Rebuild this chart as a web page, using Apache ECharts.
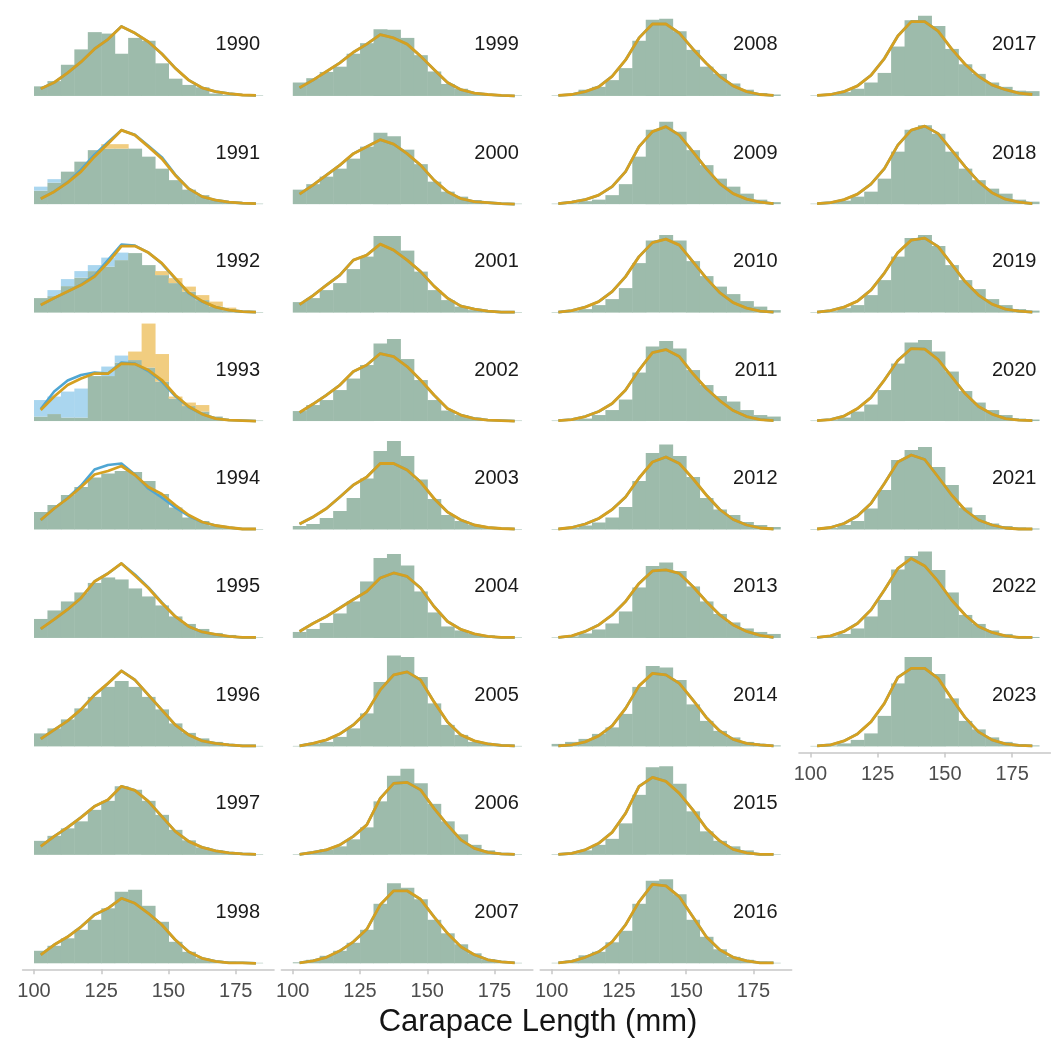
<!DOCTYPE html>
<html>
<head>
<meta charset="utf-8">
<script src="https://cdn.jsdelivr.net/npm/echarts/dist/echarts.min.js"></script>
<style>
  html, body { margin: 0; padding: 0; background: #ffffff; }
  #chart { width: 1051px; height: 1045px; }
</style>
</head>
<body>
<div id="chart"></div>
<script>
// Carapace length frequency by year: 5 mm bins from 100 to 185 mm.
const binStarts = [100, 105, 110, 115, 120, 125, 130, 135, 140, 145, 150, 155, 160, 165, 170, 175, 180];
const binWidth = 5;
const tickValues = [100, 125, 150, 175];
const years = [1990, 1991, 1992, 1993, 1994, 1995, 1996, 1997, 1998,
               1999, 2000, 2001, 2002, 2003, 2004, 2005, 2006, 2007,
               2008, 2009, 2010, 2011, 2012, 2013, 2014, 2015, 2016,
               2017, 2018, 2019, 2020, 2021, 2022, 2023];

// Percent of catch per bin (main sample), one row per year.
const histMain = [
  [2.0, 3.1, 6.5, 9.7, 13.3, 13.0, 8.8, 12.1, 11.5, 6.8, 3.6, 2.3, 1.8, 0.5, 0.2, 0.1, 0.1],
  [2.7, 4.3, 6.5, 8.5, 10.8, 12.0, 12.0, 11.1, 9.5, 7.1, 4.8, 2.9, 1.8, 0.8, 0.4, 0.2, 0.1],
  [2.9, 3.3, 5.3, 7.0, 8.3, 9.2, 10.5, 11.9, 9.5, 8.3, 6.9, 5.2, 3.5, 2.2, 1.0, 0.4, 0.1],
  [0.9, 1.4, 0.7, 0.7, 9.0, 9.0, 11.7, 13.9, 19.5, 13.4, 4.9, 3.7, 3.2, 0.9, 0.3, 0.1, 0.1],
  [3.5, 4.9, 6.9, 8.5, 10.4, 11.2, 11.7, 11.5, 9.7, 7.1, 4.4, 2.4, 1.7, 0.7, 0.3, 0.1, 0.1],
  [3.8, 5.5, 7.3, 9.1, 11.0, 12.1, 11.7, 9.9, 8.3, 6.5, 4.3, 2.8, 1.8, 1.0, 0.6, 0.2, 0.1],
  [2.6, 3.6, 5.4, 7.6, 9.9, 11.9, 13.1, 11.9, 9.9, 7.4, 4.6, 2.7, 1.6, 0.9, 0.5, 0.2, 0.1],
  [2.8, 3.8, 5.3, 6.7, 9.0, 10.8, 13.7, 13.0, 10.8, 8.0, 5.0, 2.9, 1.5, 0.9, 0.5, 0.2, 0.1],
  [2.5, 3.5, 5.0, 6.7, 8.7, 11.0, 14.3, 14.7, 11.5, 8.3, 4.3, 2.3, 1.0, 0.5, 0.3, 0.1, 0.1],
  [2.8, 3.7, 5.0, 6.1, 8.8, 11.0, 13.9, 13.8, 12.1, 8.5, 5.1, 2.5, 1.5, 0.6, 0.3, 0.1, 0.1],
  [2.9, 4.0, 5.5, 7.1, 9.1, 11.5, 14.3, 13.6, 10.9, 8.0, 4.5, 2.5, 1.5, 0.8, 0.4, 0.2, 0.1],
  [2.1, 2.9, 4.5, 5.9, 8.7, 11.2, 15.3, 15.3, 12.4, 8.2, 4.5, 2.5, 1.2, 0.5, 0.3, 0.1, 0.1],
  [2.0, 3.2, 4.2, 6.2, 8.5, 11.2, 15.5, 16.4, 12.4, 8.2, 4.2, 2.1, 1.2, 0.7, 0.3, 0.1, 0.1],
  [0.7, 1.1, 2.3, 3.7, 6.3, 10.2, 15.7, 17.7, 14.7, 10.0, 6.1, 2.9, 1.7, 0.9, 0.5, 0.2, 0.1],
  [1.2, 1.8, 3.0, 4.9, 7.3, 11.3, 16.0, 16.8, 14.5, 9.3, 5.1, 2.3, 1.5, 0.8, 0.5, 0.2, 0.1],
  [0.1, 0.5, 0.9, 1.9, 3.6, 6.6, 12.9, 18.2, 17.9, 13.9, 8.6, 4.3, 2.3, 0.9, 0.5, 0.2, 0.1],
  [0.1, 0.5, 1.1, 1.7, 3.1, 5.5, 10.7, 15.8, 17.2, 14.3, 10.2, 6.7, 4.1, 2.0, 0.9, 0.3, 0.1],
  [0.2, 0.7, 1.5, 2.5, 4.1, 6.7, 11.9, 16.0, 15.1, 12.8, 8.7, 6.0, 3.8, 2.0, 0.8, 0.3, 0.1],
  [0.1, 0.3, 1.3, 1.9, 3.3, 5.8, 11.5, 15.9, 16.1, 13.5, 9.6, 6.1, 4.6, 2.6, 1.3, 0.6, 0.3],
  [0.1, 0.2, 0.6, 0.9, 1.8, 4.0, 9.5, 14.9, 16.5, 14.5, 10.8, 7.8, 5.1, 3.5, 2.1, 0.9, 0.4],
  [0.1, 0.3, 0.7, 1.5, 2.7, 4.9, 9.9, 14.4, 15.5, 14.4, 10.3, 7.3, 5.2, 3.7, 2.3, 1.2, 0.5],
  [0.1, 0.2, 0.5, 1.2, 2.2, 4.3, 9.7, 14.9, 16.0, 14.5, 10.2, 7.2, 5.0, 3.9, 2.2, 1.2, 0.9],
  [0.1, 0.3, 0.8, 1.4, 2.4, 4.5, 9.7, 15.3, 17.0, 14.7, 10.5, 6.3, 4.0, 2.9, 1.5, 0.9, 0.5],
  [0.1, 0.3, 0.9, 1.7, 2.9, 5.3, 10.1, 14.4, 15.1, 13.4, 10.3, 7.3, 4.8, 3.1, 1.9, 1.2, 0.8],
  [0.5, 0.9, 1.5, 2.5, 3.8, 6.5, 11.9, 16.1, 15.8, 13.3, 8.4, 5.1, 3.1, 1.8, 0.9, 0.5, 0.2],
  [0.1, 0.3, 0.9, 2.0, 3.2, 6.3, 12.0, 17.5, 17.7, 14.2, 8.7, 4.7, 2.8, 1.7, 0.9, 0.3, 0.1],
  [0.1, 0.5, 1.6, 2.3, 4.2, 6.5, 11.9, 16.5, 16.8, 13.8, 8.7, 5.3, 2.8, 1.3, 0.7, 0.3, 0.1],
  [0.1, 0.3, 0.8, 1.5, 2.8, 4.8, 10.3, 15.8, 16.7, 14.6, 9.8, 6.6, 4.6, 2.8, 1.9, 1.1, 1.0],
  [0.1, 0.3, 0.7, 1.5, 2.5, 5.1, 10.5, 14.9, 15.8, 14.1, 10.5, 7.1, 4.8, 3.1, 2.1, 0.9, 0.5],
  [0.1, 0.3, 0.9, 1.5, 3.5, 6.5, 11.2, 14.9, 15.5, 13.3, 9.5, 6.5, 4.7, 2.7, 1.5, 0.7, 0.4],
  [0.1, 0.2, 0.7, 1.9, 3.3, 6.2, 11.5, 15.7, 16.2, 13.9, 9.9, 6.0, 3.7, 2.2, 1.2, 0.5, 0.3],
  [0.1, 0.3, 0.9, 1.7, 4.2, 7.9, 13.9, 15.9, 16.5, 12.5, 8.9, 4.4, 2.9, 1.2, 0.7, 0.4, 0.2],
  [0.1, 0.3, 0.8, 1.9, 4.3, 7.6, 13.7, 16.4, 17.3, 13.6, 9.1, 4.6, 2.8, 1.5, 0.8, 0.4, 0.2],
  [0.1, 0.2, 0.6, 1.3, 2.6, 6.1, 12.6, 17.9, 17.9, 14.5, 9.6, 5.1, 3.4, 1.8, 0.9, 0.4, 0.2]
];

// Alternate sample, only for the years where it differs from the main one.
const histAltYears = [1991, 1992, 1993];
const histAlt = [
  [3.5, 5.0, 6.5, 8.5, 10.8, 11.1, 11.1, 11.1, 9.5, 7.1, 4.8, 2.9, 1.8, 0.8, 0.4, 0.2, 0.1],
  [2.9, 4.5, 6.7, 8.3, 9.5, 11.0, 12.0, 11.9, 9.5, 7.5, 5.9, 4.2, 2.5, 1.2, 0.5, 0.2, 0.1],
  [4.2, 4.9, 5.9, 6.5, 9.0, 10.9, 13.1, 12.2, 10.7, 7.9, 4.5, 3.0, 1.9, 0.9, 0.3, 0.1, 0.1]
];

// Fitted curves at the bin midpoints (main sample).
const curveMain = [
  [1.5, 2.8, 4.8, 7.1, 9.8, 11.8, 14.5, 13.1, 11.3, 8.8, 5.8, 3.3, 1.7, 0.9, 0.5, 0.2, 0.1],
  [1.1, 2.5, 4.3, 6.5, 9.5, 12.1, 14.8, 13.8, 11.5, 9.1, 5.8, 3.1, 1.5, 0.8, 0.4, 0.2, 0.1],
  [1.5, 2.9, 4.2, 5.5, 7.2, 10.0, 13.3, 13.3, 12.0, 9.9, 6.9, 4.0, 2.3, 1.1, 0.5, 0.2, 0.1],
  [2.2, 4.9, 7.2, 8.5, 9.5, 9.5, 11.5, 11.4, 10.2, 8.2, 5.2, 2.9, 1.4, 0.5, 0.2, 0.1, 0.0],
  [1.9, 4.2, 6.2, 8.5, 11.0, 11.7, 12.7, 10.9, 8.5, 7.1, 4.9, 2.9, 1.5, 0.8, 0.4, 0.1, 0.1],
  [1.8, 3.7, 5.7, 8.0, 11.3, 12.9, 14.9, 12.5, 10.0, 7.0, 4.3, 2.3, 1.2, 0.7, 0.3, 0.1, 0.1],
  [1.5, 3.3, 5.1, 7.4, 10.3, 12.6, 15.1, 13.3, 10.3, 7.3, 4.3, 2.3, 1.1, 0.6, 0.3, 0.1, 0.1],
  [1.7, 3.7, 5.5, 7.5, 9.7, 11.0, 13.7, 12.9, 10.7, 7.7, 4.7, 2.7, 1.5, 0.8, 0.4, 0.2, 0.1],
  [1.7, 3.7, 5.3, 7.3, 9.7, 11.0, 13.0, 12.0, 10.0, 7.7, 4.7, 2.3, 1.0, 0.4, 0.1, 0.1, 0.0],
  [1.7, 3.3, 5.1, 6.9, 9.1, 10.8, 12.8, 12.1, 10.8, 8.3, 5.5, 2.8, 1.3, 0.6, 0.3, 0.1, 0.0],
  [2.0, 3.8, 5.8, 7.8, 10.1, 11.5, 12.9, 12.0, 10.1, 7.8, 4.8, 2.5, 1.1, 0.5, 0.3, 0.1, 0.0],
  [1.6, 3.4, 5.5, 7.5, 10.5, 11.5, 13.7, 12.5, 10.5, 8.2, 5.3, 2.9, 1.3, 0.7, 0.3, 0.1, 0.1],
  [1.7, 3.4, 5.2, 7.2, 9.9, 11.2, 13.5, 12.9, 10.9, 8.2, 5.2, 2.5, 1.2, 0.5, 0.2, 0.1, 0.0],
  [1.1, 2.5, 4.2, 6.5, 8.9, 10.5, 13.2, 13.2, 11.9, 9.5, 6.2, 3.5, 1.9, 0.9, 0.4, 0.2, 0.1],
  [1.3, 2.9, 4.3, 6.0, 7.7, 9.3, 12.0, 13.0, 12.3, 10.0, 6.3, 3.3, 1.7, 0.8, 0.3, 0.1, 0.1],
  [0.1, 0.6, 1.3, 2.5, 4.3, 6.9, 11.3, 14.3, 14.9, 13.3, 8.9, 4.9, 2.3, 1.1, 0.5, 0.2, 0.1],
  [0.1, 0.5, 1.0, 2.0, 3.7, 6.0, 11.3, 14.3, 14.5, 13.0, 9.3, 6.0, 3.0, 1.3, 0.5, 0.2, 0.1],
  [0.1, 0.5, 1.2, 2.5, 4.3, 6.8, 11.7, 14.5, 14.5, 12.8, 9.3, 6.0, 3.3, 1.7, 0.7, 0.3, 0.1],
  [0.1, 0.3, 0.9, 1.9, 4.1, 7.5, 12.1, 15.0, 15.0, 13.1, 9.8, 6.8, 4.1, 2.1, 0.9, 0.3, 0.1],
  [0.1, 0.4, 0.9, 1.8, 3.5, 6.5, 11.5, 14.5, 15.5, 13.8, 10.5, 7.1, 4.1, 2.1, 1.0, 0.4, 0.1],
  [0.1, 0.4, 1.1, 2.2, 4.2, 7.2, 11.2, 14.0, 14.7, 13.5, 10.2, 6.9, 4.0, 2.0, 0.9, 0.3, 0.1],
  [0.1, 0.3, 0.9, 1.9, 3.5, 6.2, 10.2, 13.7, 14.3, 12.9, 9.5, 6.5, 4.1, 2.1, 0.9, 0.3, 0.1],
  [0.1, 0.4, 1.1, 2.2, 4.0, 6.5, 10.3, 13.5, 14.5, 13.2, 10.2, 6.9, 4.0, 2.0, 0.9, 0.3, 0.1],
  [0.1, 0.4, 1.3, 2.6, 4.6, 7.3, 10.9, 13.4, 13.6, 12.9, 10.3, 7.3, 4.6, 2.6, 1.3, 0.5, 0.1],
  [0.1, 0.3, 0.9, 2.1, 4.1, 7.6, 12.1, 14.6, 14.3, 12.6, 9.3, 5.8, 3.1, 1.4, 0.6, 0.3, 0.1],
  [0.1, 0.3, 1.0, 2.3, 4.5, 8.3, 13.7, 15.5, 14.7, 12.3, 9.0, 5.3, 2.8, 1.1, 0.4, 0.1, 0.1],
  [0.1, 0.4, 1.2, 2.3, 4.3, 7.7, 12.3, 15.8, 15.5, 13.3, 9.3, 5.3, 2.7, 1.2, 0.5, 0.1, 0.1],
  [0.1, 0.3, 0.9, 2.1, 4.3, 7.8, 12.5, 15.5, 15.5, 13.5, 9.8, 6.6, 4.1, 2.3, 1.3, 0.6, 0.3],
  [0.1, 0.3, 0.9, 2.0, 4.0, 7.1, 11.8, 14.8, 15.6, 14.1, 10.8, 7.5, 4.5, 2.3, 1.0, 0.4, 0.1],
  [0.1, 0.4, 1.1, 2.3, 4.5, 7.9, 12.0, 14.5, 14.9, 13.2, 9.7, 6.2, 3.5, 1.7, 0.7, 0.3, 0.1],
  [0.1, 0.3, 1.0, 2.5, 4.7, 8.2, 12.1, 14.5, 14.4, 12.3, 8.9, 5.5, 2.9, 1.4, 0.5, 0.2, 0.1],
  [0.1, 0.4, 1.2, 2.7, 5.2, 9.2, 13.5, 14.9, 14.0, 10.5, 6.9, 3.9, 1.9, 0.9, 0.3, 0.1, 0.1],
  [0.1, 0.4, 1.3, 2.9, 5.6, 9.6, 13.9, 15.9, 14.4, 11.3, 7.6, 4.6, 2.3, 1.1, 0.4, 0.1, 0.1],
  [0.1, 0.3, 1.1, 2.5, 4.9, 8.6, 13.8, 15.6, 15.6, 13.6, 9.6, 5.8, 2.9, 1.3, 0.5, 0.2, 0.1]
];

// Fitted curves for the alternate sample where they differ.
const curveAltYears = [1991, 1992, 1993, 1994, 1995];
const curveAlt = [
  [1.1, 2.5, 4.4, 6.9, 9.9, 12.4, 14.8, 13.9, 11.7, 9.4, 5.9, 3.1, 1.5, 0.8, 0.4, 0.2, 0.1],
  [1.5, 2.9, 4.2, 5.6, 7.4, 10.5, 13.6, 13.4, 12.0, 9.8, 6.8, 3.9, 2.2, 1.1, 0.5, 0.2, 0.1],
  [2.4, 5.9, 8.1, 9.2, 9.7, 9.5, 11.7, 11.5, 10.0, 7.9, 5.0, 2.8, 1.4, 0.5, 0.2, 0.1, 0.0],
  [1.9, 4.2, 6.3, 8.8, 12.0, 12.9, 13.2, 11.0, 8.2, 6.4, 4.4, 2.7, 1.5, 0.8, 0.4, 0.1, 0.1],
  [1.8, 3.7, 5.7, 8.0, 11.3, 12.9, 14.9, 12.7, 10.1, 7.1, 4.3, 2.3, 1.2, 0.7, 0.3, 0.1, 0.1]
];

// Colours
const FILL_BOTH = '#9dbbab';
const FILL_ALT = '#aad6ef';
const FILL_MAIN = '#f1cd80';
const LINE_MAIN = '#d5a021';
const LINE_ALT = '#4fa6d3';
const AXIS_GREY = '#c8c8c8';
const FONT = '"Liberation Sans", Arial, sans-serif';

// Facet layout
const X_MIN = 95.75, X_MAX = 189.25;
const Y_MIN = -1.2, Y_MAX = 20;
const PX_PER_MM = 2.69, PX_PER_UNIT = 5;
const COL_X100 = 34, COL_STEP = 258.8;
const ROW_BASE = 95.7, ROW_STEP = 108.45;
const ROWS_PER_COL = 9;

function panelPos(i) {
  const col = Math.min(Math.floor(i / ROWS_PER_COL), 3);
  const row = i - col * ROWS_PER_COL;
  return { col, row };
}

function renderHist(params, api) {
  const start = api.value(0);
  const a = api.value(1);
  const b = api.value(2);
  const lo = Math.min(a, b);
  const hi = Math.max(a, b);
  const p0 = api.coord([start, 0]);
  const p1 = api.coord([start + binWidth, 0]);
  const yLo = api.coord([start, lo])[1];
  const yHi = api.coord([start, hi])[1];
  const x = p0[0];
  const w = p1[0] - p0[0] + 0.5;
  const children = [{
    type: 'rect',
    shape: { x: x, y: yLo, width: w, height: p0[1] - yLo },
    style: { fill: FILL_BOTH }
  }];
  if (hi > lo) {
    children.push({
      type: 'rect',
      shape: { x: x, y: yHi, width: w, height: yLo - yHi },
      style: { fill: a > b ? FILL_ALT : FILL_MAIN }
    });
  }
  return { type: 'group', children: children };
}

const grids = [], xAxes = [], yAxes = [], series = [], graphics = [];

years.forEach(function (year, i) {
  const pos = panelPos(i);
  const baseline = ROW_BASE + pos.row * ROW_STEP;
  const x100 = COL_X100 + pos.col * COL_STEP;
  const isBottom = (pos.col < 3 && pos.row === 8) || (pos.col === 3 && pos.row === 6);

  grids.push({
    left: x100 - (100 - X_MIN) * PX_PER_MM,
    top: baseline - Y_MAX * PX_PER_UNIT,
    width: (X_MAX - X_MIN) * PX_PER_MM,
    height: (Y_MAX - Y_MIN) * PX_PER_UNIT,
    containLabel: false
  });

  xAxes.push({
    gridIndex: i,
    type: 'value',
    min: X_MIN,
    max: X_MAX,
    show: isBottom,
    axisLine: { show: true, onZero: false, lineStyle: { color: AXIS_GREY, width: 1.5 } },
    axisTick: { show: true, length: 5, customValues: tickValues, lineStyle: { color: AXIS_GREY, width: 1.5 } },
    axisLabel: {
      show: true, customValues: tickValues, margin: 12,
      fontSize: 20, fontFamily: FONT, color: '#4d4d4d'
    },
    splitLine: { show: false }
  });

  yAxes.push({ gridIndex: i, type: 'value', min: Y_MIN, max: Y_MAX, show: false });

  const mainHist = histMain[i];
  const altIdx = histAltYears.indexOf(year);
  const altHist = altIdx >= 0 ? histAlt[altIdx] : mainHist;

  series.push({
    type: 'custom',
    xAxisIndex: i,
    yAxisIndex: i,
    silent: true,
    z: 1,
    renderItem: renderHist,
    encode: { x: 0, y: [1, 2] },
    data: binStarts.map(function (s, k) { return [s, altHist[k], mainHist[k]]; })
  });

  const mainCurve = curveMain[i];
  const cIdx = curveAltYears.indexOf(year);
  const altCurve = cIdx >= 0 ? curveAlt[cIdx] : mainCurve;

  series.push({
    type: 'line',
    xAxisIndex: i,
    yAxisIndex: i,
    silent: true,
    z: 2,
    showSymbol: false,
    lineStyle: { color: LINE_ALT, width: 2.6, join: 'round' },
    data: binStarts.map(function (s, k) { return [s + binWidth / 2, altCurve[k]]; })
  });

  series.push({
    type: 'line',
    xAxisIndex: i,
    yAxisIndex: i,
    silent: true,
    z: 3,
    showSymbol: false,
    lineStyle: { color: LINE_MAIN, width: 2.8, join: 'round' },
    data: binStarts.map(function (s, k) { return [s + binWidth / 2, mainCurve[k]]; })
  });

  graphics.push({
    type: 'text',
    x: x100 + 226,
    y: baseline - 51,
    style: {
      text: String(year),
      font: '20px ' + FONT,
      fill: '#1a1a1a',
      align: 'right',
      verticalAlign: 'middle'
    }
  });
});

graphics.push({
  type: 'text',
  x: 538,
  y: 1022,
  style: {
    text: 'Carapace Length (mm)',
    font: '31px ' + FONT,
    fill: '#141414',
    align: 'center',
    verticalAlign: 'middle'
  }
});

const chart = echarts.init(document.getElementById('chart'), null, { renderer: 'canvas' });
chart.setOption({
  animation: false,
  backgroundColor: '#ffffff',
  grid: grids,
  xAxis: xAxes,
  yAxis: yAxes,
  series: series,
  graphic: { elements: graphics }
});
</script>
</body>
</html>
